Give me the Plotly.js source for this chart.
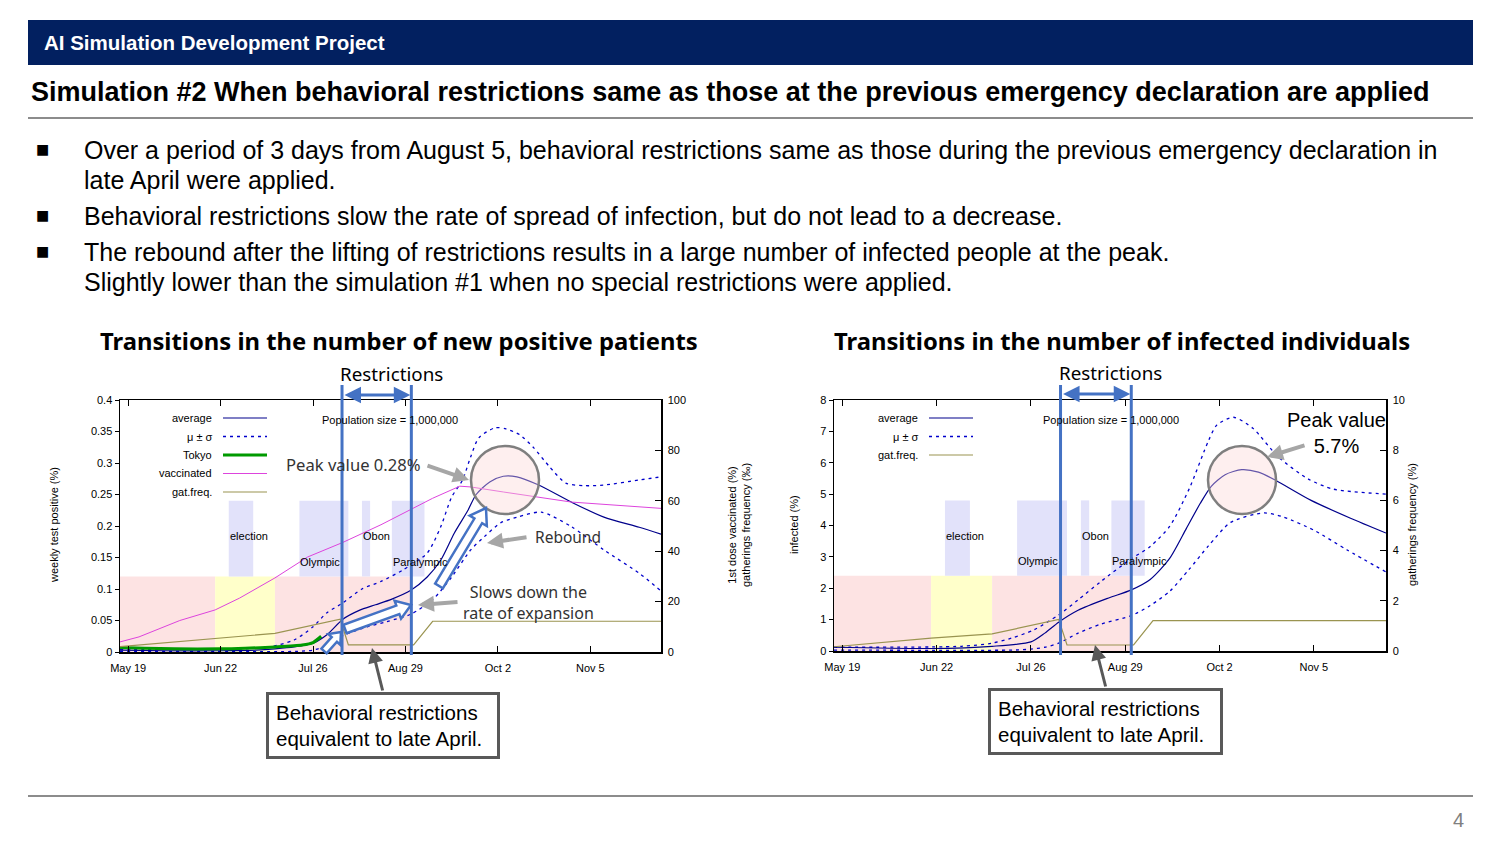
<!DOCTYPE html>
<html>
<head>
<meta charset="utf-8">
<script src="https://cdn.plot.ly/plotly-3.0.1.min.js"></script>
<style>
html,body{margin:0;padding:0;background:#fff;overflow:hidden;}
#wrap{position:relative;width:1500px;height:844px;font-family:"Liberation Sans",Arial,sans-serif;}
#plot{position:absolute;left:0;top:0;width:1500px;height:844px;}
.ov{position:absolute;white-space:nowrap;}
#hdr{left:28px;top:20px;width:1445px;height:45px;background:#022060;color:#fff;font-weight:bold;font-size:20.5px;line-height:45px;box-sizing:border-box;padding-left:16px;}
#sub{left:31px;top:76px;font-weight:bold;font-size:27px;line-height:32px;color:#000;}
.rule{position:absolute;left:28px;width:1445px;height:2px;background:#8c8c8c;}
.bul{position:absolute;left:36px;font-family:"DejaVu Sans",sans-serif;font-size:14px;color:#000;}
.btxt{position:absolute;left:84px;font-size:25px;line-height:30px;color:#000;white-space:nowrap;}
.box{position:absolute;border:3px solid #595959;box-sizing:border-box;background:#fff;font-size:20.5px;line-height:26px;padding:5px 0 0 7px;color:#000;white-space:nowrap;}
#pg{left:1453px;top:809px;font-size:20px;color:#808080;}
</style>
</head>
<body>
<div id="wrap">
<div id="plot"></div>
<div class="ov" id="hdr">AI Simulation Development Project</div>
<div class="ov" id="sub">Simulation #2 When behavioral restrictions same as those at the previous emergency declaration are applied</div>
<div class="rule" style="top:117px"></div>
<div class="bul" style="top:141px">■</div>
<div class="btxt" style="top:135px">Over a period of 3 days from August 5, behavioral restrictions same as those during the previous emergency declaration in<br>late April were applied.</div>
<div class="bul" style="top:207px">■</div>
<div class="btxt" style="top:201px">Behavioral restrictions slow the rate of spread of infection, but do not lead to a decrease.</div>
<div class="bul" style="top:243px">■</div>
<div class="btxt" style="top:237px">The rebound after the lifting of restrictions results in a large number of infected people at the peak.<br>Slightly lower than the simulation #1 when no special restrictions were applied.</div>
<div class="box" style="left:266px;top:692px;width:234px;height:67px">Behavioral restrictions<br>equivalent to late April.</div>
<div class="box" style="left:988px;top:688px;width:235px;height:67px">Behavioral restrictions<br>equivalent to late April.</div>
<div class="rule" style="top:795px"></div>
<div class="ov" id="pg">4</div>
</div>
<script>
// ---------------- DATA ----------------
const tickDates = ['2021-05-19','2021-06-22','2021-07-26','2021-08-29','2021-10-02','2021-11-05'];
const tickLabels = ['May 19','Jun 22','Jul 26','Aug 29','Oct 2','Nov 5'];
const xRange = ['2021-05-16','2021-12-01'];

const periodStarts = ['2021-05-16','2021-06-20','2021-07-12'];
const periodEnds   = ['2021-06-20','2021-07-12','2021-08-31'];
const eventNames  = ['election','Olympic','Obon','Paralympic'];
const eventStarts = ['2021-06-25','2021-07-21','2021-08-13','2021-08-24'];
const eventEnds   = ['2021-07-04','2021-08-08','2021-08-16','2021-09-05'];
const restrictStart = '2021-08-05T16:00';
const restrictEnd   = '2021-08-31T04:00';

// Left chart: weekly test positive (%)
const posAvgDates = ['2021-05-16','2021-06-01','2021-06-22','2021-07-05','2021-07-12','2021-07-19','2021-07-26','2021-07-31','2021-08-06','2021-08-12','2021-08-18','2021-08-24','2021-08-31','2021-09-06','2021-09-11','2021-09-16','2021-09-21','2021-09-24','2021-09-29','2021-10-04','2021-10-09','2021-10-17','2021-10-29','2021-11-10','2021-11-23','2021-12-01'];
const posAvg = [0.003,0.002,0.002,0.003,0.005,0.008,0.014,0.027,0.052,0.066,0.075,0.084,0.098,0.119,0.146,0.189,0.225,0.250,0.270,0.279,0.278,0.265,0.238,0.214,0.198,0.187];
const posUpperDates = ['2021-05-16','2021-06-01','2021-06-22','2021-07-01','2021-07-10','2021-07-19','2021-07-26','2021-07-31','2021-08-06','2021-08-13','2021-08-20','2021-08-28','2021-09-06','2021-09-11','2021-09-15','2021-09-19','2021-09-22','2021-09-25','2021-10-01','2021-10-05','2021-10-10','2021-10-15','2021-10-21','2021-10-27','2021-11-03','2021-11-10','2021-11-23','2021-12-01'];
const posUpper = [0.004,0.004,0.004,0.005,0.008,0.019,0.040,0.062,0.078,0.100,0.112,0.130,0.157,0.199,0.246,0.273,0.310,0.340,0.356,0.354,0.345,0.325,0.294,0.268,0.264,0.265,0.273,0.278];
const posLowerDates = ['2021-05-16','2021-07-20','2021-07-26','2021-07-31','2021-08-06','2021-08-15','2021-08-22','2021-08-31','2021-09-08','2021-09-15','2021-09-22','2021-09-27','2021-10-03','2021-10-09','2021-10-18','2021-10-29','2021-11-10','2021-11-23','2021-12-01'];
const posLower = [0.001,0.001,0.003,0.010,0.026,0.040,0.048,0.060,0.083,0.119,0.162,0.183,0.205,0.214,0.222,0.199,0.162,0.125,0.097];
const tokyoDates = ['2021-05-16','2021-05-25','2021-06-05','2021-06-22','2021-07-01','2021-07-12','2021-07-22','2021-07-26','2021-07-29'];
const tokyo = [0.007,0.006,0.005,0.005,0.006,0.008,0.011,0.015,0.025];
const vaccDates = ['2021-05-16','2021-05-23','2021-06-07','2021-06-20','2021-06-29','2021-07-12','2021-07-24','2021-08-06','2021-08-20','2021-08-28','2021-09-08','2021-09-18','2021-09-22','2021-10-04','2021-10-29','2021-12-01'];
const vacc = [4,6,12.5,16.7,21.4,29.4,37.7,43.5,50.5,55,61,65.8,65.5,63.5,59.5,57];
const gatDates = ['2021-05-16','2021-06-20','2021-07-12','2021-08-05','2021-08-08','2021-09-01','2021-09-08','2021-12-01'];
const gatPermille = [2.1,5.4,7.4,13.0,2.8,2.8,12.2,12.2];

// Right chart: infected (%)
const infAvgDates = ['2021-05-16','2021-06-20','2021-07-12','2021-07-26','2021-07-31','2021-08-05','2021-08-12','2021-08-23','2021-08-31','2021-09-07','2021-09-14','2021-09-20','2021-09-25','2021-09-29','2021-10-04','2021-10-10','2021-10-16','2021-10-22','2021-11-04','2021-11-18','2021-12-01'];
const infAvg = [0.12,0.08,0.15,0.29,0.57,0.92,1.3,1.69,1.94,2.28,2.95,3.9,4.7,5.25,5.62,5.78,5.7,5.45,4.8,4.24,3.76];
const infUpperDates = ['2021-05-16','2021-07-01','2021-07-12','2021-07-19','2021-07-27','2021-08-05','2021-08-12','2021-08-20','2021-08-31','2021-09-07','2021-09-14','2021-09-21','2021-09-28','2021-10-01','2021-10-07','2021-10-14','2021-10-23','2021-11-03','2021-11-12','2021-12-01'];
const infUpper = [0.12,0.15,0.25,0.41,0.67,1.15,1.63,2.2,2.93,3.33,3.97,5.16,6.7,7.2,7.45,7.1,6.2,5.48,5.16,5.0];
const infLowerDates = ['2021-05-16','2021-07-20','2021-07-26','2021-07-31','2021-08-05','2021-08-12','2021-08-20','2021-08-31','2021-09-07','2021-09-14','2021-09-21','2021-09-28','2021-10-06','2021-10-18','2021-10-25','2021-11-05','2021-11-17','2021-12-01'];
const infLower = [0.03,0.03,0.06,0.12,0.25,0.57,0.85,1.12,1.45,1.9,2.6,3.35,4.1,4.4,4.27,3.85,3.22,2.52];
const gatPercent = [0.17,0.51,0.68,1.26,0.24,0.24,1.21,1.21];

const leftYTicks = [0,0.05,0.1,0.15,0.2,0.25,0.3,0.35,0.4];
const leftYLabels = ['0','0.05','0.1','0.15','0.2','0.25','0.3','0.35','0.4'];

// ---------------- LAYOUT HELPERS ----------------
const W = 1500, H = 844;
const PX = x => x / W, PY = y => 1 - y / H;
const FA = 'Liberation Sans, Arial, sans-serif';
const FN = 'Noto Sans, sans-serif';
const NAVY = '#00008b', DOT = '#0000cc', GREEN = '#009a00', MAG = '#dd44dd', OLIVE = '#9a9450', BLUE = '#4472c4';

const L = {x0:120, x1:661, y0:400, y1:652};
const R = {x0:834, x1:1386, y0:400, y1:651};

function line(x, y, xa, ya, color, width, dash, shape) {
  return {x:x, y:y, xaxis:xa, yaxis:ya, type:'scatter', mode:'lines', hoverinfo:'skip',
    line:{color:color, width:width, dash:dash||'solid', shape:shape||'spline', smoothing:0.7}};
}
const traces = [
  line(vaccDates, vacc, 'x', 'y2', MAG, 1, 'solid', 'linear'),
  line(gatDates, gatPermille, 'x', 'y2', OLIVE, 1.2, 'solid', 'linear'),
  line(posUpperDates, posUpper, 'x', 'y', DOT, 1.3, '3px,4px'),
  line(posLowerDates, posLower, 'x', 'y', DOT, 1.3, '3px,4px'),
  line(posAvgDates, posAvg, 'x', 'y', NAVY, 1.2),
  line(tokyoDates, tokyo, 'x', 'y', GREEN, 3),
  line(gatDates, gatPercent, 'x2', 'y4', OLIVE, 1.2, 'solid', 'linear'),
  line(infUpperDates, infUpper, 'x2', 'y3', DOT, 1.3, '3px,4px'),
  line(infLowerDates, infLower, 'x2', 'y3', DOT, 1.3, '3px,4px'),
  line(infAvgDates, infAvg, 'x2', 'y3', NAVY, 1.2)
];

function xax(box, anchor) {
  return {domain:[PX(box.x0), PX(box.x1)], anchor:anchor, type:'date', range:xRange,
    tickmode:'array', tickvals:tickDates, ticktext:tickLabels, ticks:'inside', ticklen:6, tickwidth:1,
    tickcolor:'#000', mirror:'ticks', showline:true, linecolor:'#000', linewidth:1.5,
    showgrid:false, zeroline:false, ticklabelstandoff:5, tickfont:{family:FA, size:11, color:'#000'}};
}
function yax(box, anchor, range, vals, labels) {
  return {domain:[PY(box.y1), PY(box.y0)], anchor:anchor, range:range, tickmode:'array', tickvals:vals,
    ticktext:labels, ticks:'outside', ticklen:4, tickcolor:'#000', showline:true, linecolor:'#000',
    linewidth:1.5, showgrid:false, zeroline:false, tickfont:{family:FA, size:11, color:'#000'}};
}
function y2ax(over, anchor, range, vals) {
  return {overlaying:over, side:'right', anchor:anchor, range:range, tickmode:'array', tickvals:vals,
    ticks:'inside', ticklen:6, tickcolor:'#000', showline:true, linecolor:'#000', linewidth:1.5,
    showgrid:false, zeroline:false, ticklabelstandoff:3, tickfont:{family:FA, size:11, color:'#000'}};
}

const shapes = [];
const annotations = [];
const PINK = '#fde3e3', YEL = '#ffffca', LAV = '#e2e2fa';

function chartDecor(xa, yd, box, legendRows, legendTextX, legendLineX, popX) {
  periodStarts.forEach((s, i) => {
    shapes.push({type:'rect', xref:xa, yref:yd, x0:s, x1:periodEnds[i], y0:0, y1:0.3,
      fillcolor: i === 1 ? YEL : PINK, line:{width:0}, layer:'below'});
  });
  eventStarts.forEach((s, i) => {
    shapes.push({type:'rect', xref:xa, yref:yd, x0:s, x1:eventEnds[i], y0:0.3, y1:0.6,
      fillcolor:LAV, line:{width:0}, layer:'below'});
    const hi = (i === 0 || i === 2);
    annotations.push({xref:xa, yref:yd, x:s, y: hi ? 0.46 : 0.357, text:eventNames[i], showarrow:false,
      xanchor:'left', yanchor:'middle', xshift:-1, font:{family:FA, size:11, color:'#000'}});
  });
  [restrictStart, restrictEnd].forEach(d => {
    shapes.push({type:'line', xref:xa, yref:'paper', x0:d, x1:d, y0:PY(655), y1:PY(385),
      line:{color:BLUE, width:3}, layer:'above'});
  });
  legendRows.forEach((r, i) => {
    const yy = 418 + i * 18.5;
    annotations.push({xref:'paper', yref:'paper', x:PX(legendTextX), y:PY(yy), text:r.name, showarrow:false,
      xanchor:'right', yanchor:'middle', font:{family:FA, size:11, color:'#000'}});
    shapes.push({type:'line', xref:'paper', yref:'paper', x0:PX(legendLineX), x1:PX(legendLineX + 44),
      y0:PY(yy), y1:PY(yy), line:{color:r.color, width:r.width, dash:r.dash||'solid'}});
  });
  annotations.push({xref:'paper', yref:'paper', x:PX(popX), y:PY(420), text:'Population size = 1,000,000',
    showarrow:false, xanchor:'center', yanchor:'middle', font:{family:FA, size:11, color:'#000'}});
}

chartDecor('x', 'y domain', L, [
  {name:'average', color:NAVY, width:1.2},
  {name:'μ ± σ', color:DOT, width:1.3, dash:'3px,4px'},
  {name:'Tokyo', color:GREEN, width:3},
  {name:'vaccinated', color:MAG, width:1},
  {name:'gat.freq.', color:OLIVE, width:1.2}
], 214, 223, 390);
chartDecor('x2', 'y3 domain', R, [
  {name:'average', color:NAVY, width:1.2},
  {name:'μ ± σ', color:DOT, width:1.3, dash:'3px,4px'},
  {name:'gat.freq.', color:OLIVE, width:1.2}
], 920, 929, 1111);

shapes.push({type:'circle', xref:'paper', yref:'paper', x0:PX(471), x1:PX(539), y0:PY(514), y1:PY(446),
  fillcolor:'rgba(252,215,215,0.4)', line:{color:'#7f7f7f', width:2.5}, layer:'above'});
shapes.push({type:'circle', xref:'paper', yref:'paper', x0:PX(1208), x1:PX(1276), y0:PY(514), y1:PY(446),
  fillcolor:'rgba(252,215,215,0.4)', line:{color:'#7f7f7f', width:2.5}, layer:'above'});

function blockArrow(x0, y0, x1, y1, sw, hw, hl) {
  const dx = x1 - x0, dy = y1 - y0, len = Math.hypot(dx, dy), ux = dx / len, uy = dy / len, nx = -uy, ny = ux;
  const bx = x1 - ux * hl, by = y1 - uy * hl;
  const pts = [[x0 + nx*sw, y0 + ny*sw], [bx + nx*sw, by + ny*sw], [bx + nx*hw, by + ny*hw], [x1, y1],
    [bx - nx*hw, by - ny*hw], [bx - nx*sw, by - ny*sw], [x0 - nx*sw, y0 - ny*sw]];
  return 'M' + pts.map(p => PX(p[0]).toFixed(5) + ',' + PY(p[1]).toFixed(5)).join(' L') + ' Z';
}
[[324,651,341,632,3.5,8,10],[345,629,411,605,4.5,9.5,14],[439,586,486,508,4.5,10,15]].forEach(a => {
  shapes.push({type:'path', xref:'paper', yref:'paper', path:blockArrow(...a),
    fillcolor:'#ffffff', line:{color:BLUE, width:2.5}, layer:'above'});
});

function txt(t, x, y, size, opts) {
  annotations.push(Object.assign({xref:'paper', yref:'paper', x:PX(x), y:PY(y), text:t, showarrow:false,
    xanchor:'center', yanchor:'middle', font:{family:FA, size:size, color:'#000'}}, opts || {}));
}
txt('<b>Transitions in the number of new positive patients</b>', 399, 341, 23.8, {font:{family:FN, size:23.8, color:'#000'}});
txt('<b>Transitions in the number of infected individuals</b>', 1122, 341, 23.8, {font:{family:FN, size:23.8, color:'#000'}});
txt('Restrictions', 392, 374, 18.8, {font:{family:FN, size:18.8, color:'#000'}});
txt('Restrictions', 1110, 373, 18.8, {font:{family:FN, size:18.8, color:'#000'}});
txt('weekly test positive (%)', 54, 525, 11, {textangle:-90});
txt('1st dose vaccinated (%)<br>gatherings frequency (‰)', 739, 525, 11, {textangle:-90});
txt('infected (%)', 794, 525, 11, {textangle:-90});
txt('gatherings frequency (%)', 1412, 525, 11, {textangle:-90});
txt('Peak value 0.28%', 284, 464, 16.6, {xanchor:'left', font:{family:FN, size:16.6, color:'#333'}});
txt('Rebound', 533, 537, 15.5, {xanchor:'left', font:{family:FN, size:15.5, color:'#333'}});
txt('Slows down the<br>rate of expansion', 528, 602, 16, {font:{family:FN, size:16, color:'#333'}});
txt('Peak value<br>5.7%', 1336, 433, 20, {font:{family:FA, size:20, color:'#000'}});

function arr(tipX, tipY, tailX, tailY, color, width, size) {
  annotations.push({xref:'paper', yref:'paper', x:PX(tipX), y:PY(tipY), ax:tailX - tipX, ay:tailY - tipY,
    text:'', showarrow:true, arrowhead:2, arrowsize:size, arrowwidth:width, arrowcolor:color, standoff:0});
}
arr(469, 480, 426, 465, '#a6a6a6', 4, 0.8);
arr(487, 543, 528, 537, '#a6a6a6', 4, 0.8);
arr(418, 605, 459, 602, '#a6a6a6', 4, 0.8);
arr(1267, 457, 1306, 445, '#a6a6a6', 4, 0.8);
arr(372, 648, 383, 692, '#595959', 3, 1);
arr(1095, 645, 1106, 688, '#595959', 3, 1);

function dblArrow(xa, box, yy) {
  const days = (new Date(restrictEnd) - new Date(restrictStart)) / 86400000;
  const total = (new Date(xRange[1]) - new Date(xRange[0])) / 86400000;
  const dist = days * (box.x1 - box.x0) / total;
  annotations.push({xref:xa, yref:'paper', x:restrictEnd, y:PY(yy), ax:-dist, ay:0, text:'', showarrow:true,
    arrowside:'end+start', arrowhead:2, startarrowhead:2, arrowsize:1.1, startarrowsize:1.1, arrowwidth:3,
    arrowcolor:BLUE, standoff:1, startstandoff:1});
}
dblArrow('x', L, 395);
dblArrow('x2', R, 394);

const layout = {
  width:W, height:H, margin:{l:0, r:0, t:0, b:0}, paper_bgcolor:'rgba(0,0,0,0)', plot_bgcolor:'#ffffff',
  showlegend:false, font:{family:FA, size:11, color:'#000'},
  xaxis: xax(L, 'y'),
  yaxis: yax(L, 'x', [0, 0.4], leftYTicks, leftYLabels),
  yaxis2: y2ax('y', 'x', [0, 100], [0,20,40,60,80,100]),
  xaxis2: xax(R, 'y3'),
  yaxis3: yax(R, 'x2', [0, 8], [0,1,2,3,4,5,6,7,8], ['0','1','2','3','4','5','6','7','8']),
  yaxis4: y2ax('y3', 'x2', [0, 10], [0,2,4,6,8,10]),
  shapes: shapes, annotations: annotations
};
Plotly.newPlot('plot', traces, layout, {displayModeBar:false, staticPlot:true});
</script>
</body>
</html>
